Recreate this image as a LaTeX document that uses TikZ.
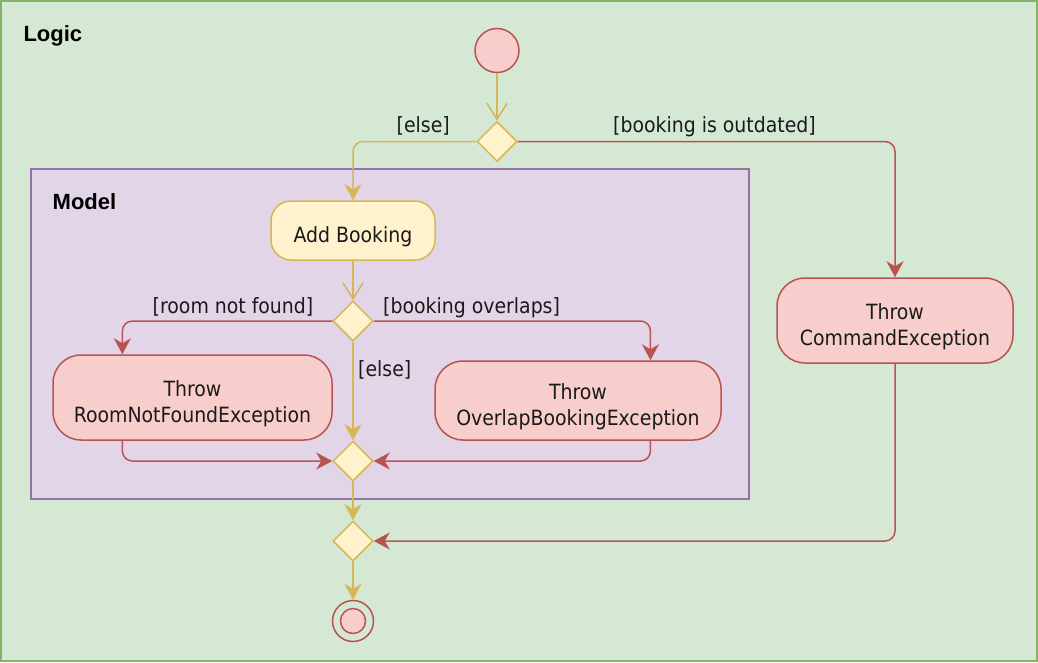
\documentclass[tikz,border=0pt]{standalone}
\usepackage{fontspec}
\setmainfont{DejaVu Sans Condensed}
\newfontfamily\titlefont{Liberation Sans}
\usetikzlibrary{arrows.meta,shapes.geometric,calc}
\definecolor{gfill}{HTML}{D5E8D4}
\definecolor{gline}{HTML}{82B366}
\definecolor{pfill}{HTML}{E1D5E7}
\definecolor{pline}{HTML}{9673A6}
\definecolor{yfill}{HTML}{FFF2CC}
\definecolor{yline}{HTML}{D6B656}
\definecolor{rfill}{HTML}{F8CECC}
\definecolor{rline}{HTML}{B85450}
\definecolor{txt}{HTML}{1A1A1A}
\newcommand\acttext[1]{\raisebox{-7pt}[\height][\depth]{\begin{tabular}{@{}c@{}}#1\end{tabular}}}
\tikzset{
  frame/.style={line width=1.5pt},
  title/.style={anchor=base west,font=\titlefont\bfseries\fontsize{22}{26}\selectfont,text=black,inner sep=0},
  lbl/.style={anchor=base west,font=\fontsize{21}{26}\selectfont,text=txt,inner sep=0},
  act/.style={draw,line width=1.5pt,rounded corners=20pt,align=center,font=\fontsize{21}{26}\selectfont,inner sep=0,text=txt},
  yact/.style={act,fill=yfill,draw=yline},
  ract/.style={act,fill=rfill,draw=rline,rounded corners=28pt},
  dec/.style={diamond,draw=yline,fill=yfill,line width=1.5pt,minimum width=40pt,minimum height=40pt,inner sep=0},
  yedge/.style={draw=yline,line width=1.5pt,rounded corners=10pt,-{Stealth[length=16pt,width=17pt,inset=5pt]},color=yline},
  redge/.style={draw=rline,line width=1.5pt,rounded corners=10pt,-{Stealth[length=16pt,width=17pt,inset=5pt]},color=rline},
  oedge/.style={draw=yline,line width=1.5pt,-{Straight Barb[length=16pt,width=20pt,line width=1.5pt]},color=yline},
}
\begin{document}
\begin{tikzpicture}[x=1pt,y=-1pt]
\useasboundingbox (0,0) rectangle (1038,662);
% frames
\draw[frame,fill=gfill,draw=gline] (1,1) rectangle (1037,661);
\node[title] (logic) at (23.3,41.5) {Logic};
\draw[frame,fill=pfill,draw=pline] (31,169) rectangle (749,499);
\node[title] (model) at (52.5,209) {Model};
% nodes
\node[circle,draw=rline,fill=rfill,line width=1.5pt,minimum size=44pt,inner sep=0] (start) at (497,50.5) {};
\node[dec] (d1) at (497,141.5) {};
\node[yact,minimum width=164pt,minimum height=59pt] (add) at (353,230.5) {\acttext{Add Booking}};
\node[dec] (d2) at (353,321) {};
\node[ract,minimum width=279pt,minimum height=85pt] (room) at (192.5,397.5) {\acttext{Throw\\RoomNotFoundException}};
\node[ract,minimum width=286pt,minimum height=79pt] (over) at (578,400.5) {\acttext{Throw\\OverlapBookingException}};
\node[dec] (d3) at (353,461) {};
\node[ract,minimum width=236pt,minimum height=85pt] (cmd) at (895,320.5) {\acttext{Throw\\CommandException}};
\node[dec] (d4) at (353,541) {};
\node[circle,draw=rline,line width=1.5pt,minimum size=41pt,inner sep=0] (end) at (353,621) {};
\node[circle,draw=rline,fill=rfill,line width=1.5pt,minimum size=25pt,inner sep=0] (endin) at (end.center) {};
% edges
\draw[oedge] (start) -- (d1.north);
\draw[yedge] (d1.west) -| (add.north);
\draw[redge] (d1.east) -| (cmd.north);
\draw[oedge] (add) -- (d2.north);
\draw[redge] (d2.west) -| ($(room.north west)!0.25!(room.north east)$);
\draw[redge] (d2.east) -| ($(over.north west)!0.752!(over.north east)$);
\draw[yedge] (d2.south) -- (d3.north);
\draw[redge] ($(room.south west)!0.25!(room.south east)$) |- (d3.west);
\draw[redge] ($(over.south west)!0.752!(over.south east)$) |- (d3.east);
\draw[yedge] (d3.south) -- (d4.north);
\draw[redge] (cmd.south) |- (d4.east);
\draw[yedge] (d4.south) -- (end.north);
% labels
\node[lbl] (l1) at (396.5,132.5) {[else]};
\node[lbl] (l2) at (613,132) {[booking is outdated]};
\node[lbl] (l3) at (152.5,313) {[room not found]};
\node[lbl] (l4) at (383,313) {[booking overlaps]};
\node[lbl] (l5) at (358,376.5) {[else]};
\end{tikzpicture}
\end{document}
